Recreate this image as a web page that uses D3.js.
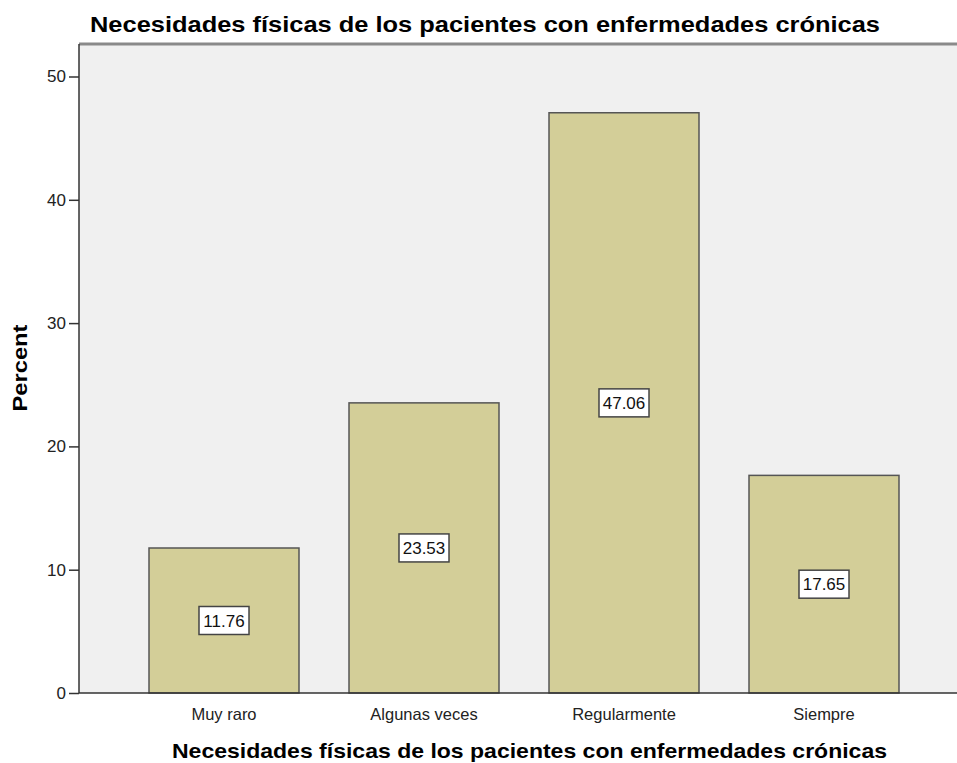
<!DOCTYPE html>
<html lang="es">
<head>
<meta charset="utf-8">
<title>Necesidades físicas</title>
<script src="https://cdn.jsdelivr.net/npm/d3@7"></script>
<style>
  body { margin: 0; background: #fff; }
  text { font-family: "Liberation Sans", Arial, sans-serif; }
</style>
</head>
<body>
<div id="grafica"></div>
<script>
var categorias = ["Muy raro", "Algunas veces", "Regularmente", "Siempre"];
var porcentajes = [11.76, 23.53, 47.06, 17.65];
var ticksY = [0, 10, 20, 30, 40, 50];
var titulo = "Necesidades físicas de los pacientes con enfermedades crónicas";

var w = 957, h = 763;
var izq = 79, arriba = 44, abajo = 693;

var svg = d3.select("#grafica").append("svg")
  .attr("width", w).attr("height", h);

var x = d3.scaleBand().domain(categorias)
  .range([izq, 969]).paddingInner(0.25).paddingOuter(0.35);
var y = d3.scaleLinear().domain([0, 50]).range([abajo, 76.5]);

// fondo del area de grafica
svg.append("rect")
  .attr("x", izq).attr("y", arriba)
  .attr("width", w - izq + 5).attr("height", abajo - arriba)
  .attr("fill", "#f0f0f0");
svg.append("line")
  .attr("x1", izq).attr("x2", w).attr("y1", arriba).attr("y2", arriba)
  .attr("stroke", "#8a8a8a").attr("stroke-width", 3);

// barras
svg.selectAll("rect.barra")
  .data(porcentajes)
  .enter()
  .append("rect")
  .attr("class", "barra")
  .attr("x", function(d, i){ return x(categorias[i]); })
  .attr("y", function(d){ return y(d); })
  .attr("width", x.bandwidth())
  .attr("height", function(d){ return y(0) - y(d); })
  .attr("fill", "#d3ce98")
  .attr("stroke", "#555")
  .attr("stroke-width", 1.5);

// ejes
var ejeY = svg.append("g")
  .attr("transform", "translate(" + izq + ",0)")
  .call(d3.axisLeft(y).tickValues(ticksY).tickSize(10).tickPadding(3));
ejeY.select(".domain").attr("stroke", "#333").attr("stroke-width", 1.5)
  .attr("d", "M0," + arriba + "V" + abajo);
ejeY.selectAll(".tick line").attr("stroke", "#333").attr("stroke-width", 1.5);
ejeY.selectAll(".tick text").style("font-size", "17px").attr("fill", "#222")
  .attr("font-family", "Liberation Sans, Arial, sans-serif");

var ejeX = svg.append("g")
  .attr("transform", "translate(0," + abajo + ")")
  .call(d3.axisBottom(x).tickSize(0).tickPadding(15));
ejeX.select(".domain").attr("stroke", "#333").attr("stroke-width", 1.5)
  .attr("d", "M" + izq + ",0H" + w);
ejeX.selectAll(".tick text").style("font-size", "16.5px").attr("fill", "#222")
  .attr("font-family", "Liberation Sans, Arial, sans-serif");

// etiquetas de valor
var etiquetas = svg.selectAll("g.etiqueta")
  .data(porcentajes)
  .enter()
  .append("g")
  .attr("class", "etiqueta")
  .attr("transform", function(d, i){
    return "translate(" + (x(categorias[i]) + x.bandwidth() / 2) + "," + y(d / 2) + ")";
  });
etiquetas.append("rect")
  .attr("x", -25).attr("y", -14).attr("width", 50).attr("height", 28)
  .attr("fill", "#fff").attr("stroke", "#444").attr("stroke-width", 1.5);
etiquetas.append("text")
  .attr("text-anchor", "middle").attr("dy", "0.36em")
  .style("font-size", "17px").attr("fill", "#111")
  .text(function(d){ return d.toFixed(2); });

// titulos
svg.append("text")
  .attr("x", 90).attr("y", 32)
  .attr("textLength", 790).attr("lengthAdjust", "spacingAndGlyphs")
  .style("font-size", "22px").style("font-weight", "bold").attr("fill", "#000")
  .text(titulo);
svg.append("text")
  .attr("x", 172).attr("y", 758)
  .attr("textLength", 715).attr("lengthAdjust", "spacingAndGlyphs")
  .style("font-size", "21px").style("font-weight", "bold").attr("fill", "#000")
  .text(titulo);
svg.append("text")
  .attr("transform", "translate(27,368) rotate(-90)")
  .attr("text-anchor", "middle")
  .attr("textLength", 87).attr("lengthAdjust", "spacingAndGlyphs")
  .style("font-size", "20px").style("font-weight", "bold").attr("fill", "#000")
  .text("Percent");
</script>
</body>
</html>
